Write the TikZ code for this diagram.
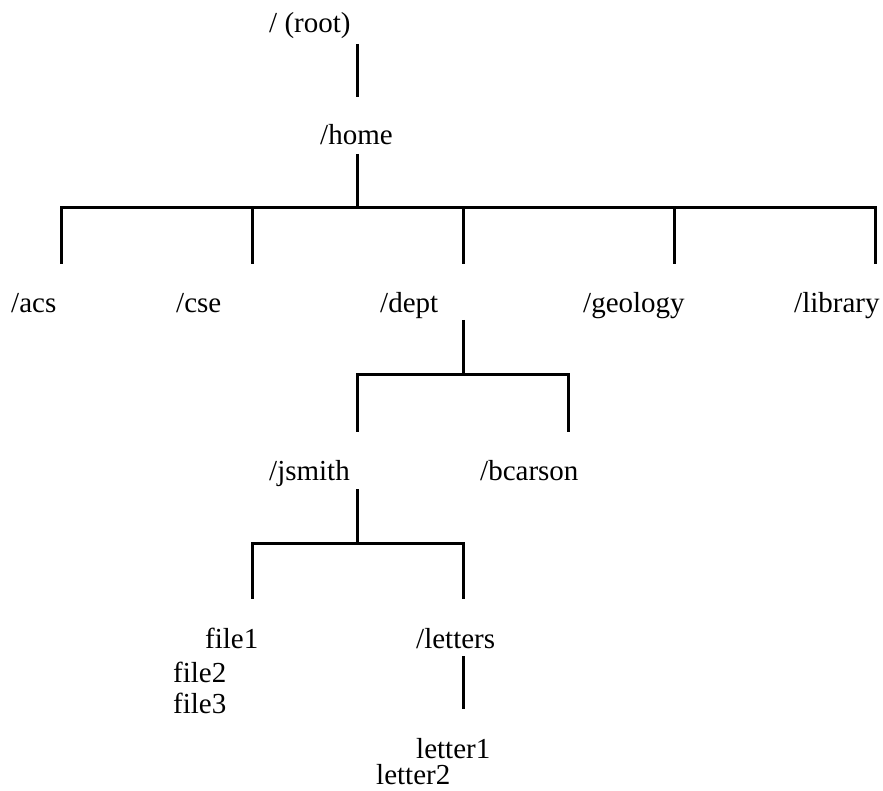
\documentclass[tikz,border=0pt]{standalone}
\usepackage{fontspec}
\setmainfont{Liberation Serif}
\begin{document}
\begin{tikzpicture}[x=1pt,y=-1pt,
  lbl/.style={anchor=base west, inner sep=0pt, font=\fontsize{29}{33}\selectfont},
  conn/.style={line width=3pt},
  bar/.style={line width=3pt, line cap=rect}]
\useasboundingbox (0,0) rectangle (883,791);
% labels
\node[lbl] (root) at (269,33) {/ (root)};
\node[lbl] (home) at (320,145) {/home};
\node[lbl] (acs) at (11,313) {/acs};
\node[lbl] (cse) at (176,313) {/cse};
\node[lbl] (dept) at (380,313) {/dept};
\node[lbl] (geology) at (583,313) {/geology};
\node[lbl] (library) at (794,313) {/library};
\node[lbl] (jsmith) at (269,480) {/jsmith};
\node[lbl] (bcarson) at (480,480) {/bcarson};
\node[lbl] (file1) at (205,648) {file1};
\node[lbl] (file2) at (173,682) {file2};
\node[lbl] (file3) at (173,713) {file3};
\node[lbl] (letters) at (416,648) {/letters};
\node[lbl] (letter1) at (416,758) {letter1};
\node[lbl] (letter2) at (376,784) {letter2};
% connector end points
\coordinate (rootS) at (357,44);
\coordinate (homeN) at (357,97);
\coordinate (homeS) at (357,154);
\coordinate (homeJ) at (357,208);
\coordinate (barL) at (61,208);
\coordinate (barR) at (875,208);
\coordinate (acsN) at (61,264);
\coordinate (cseN) at (252,264);
\coordinate (deptN) at (463,264);
\coordinate (geoN) at (674,264);
\coordinate (libN) at (875,264);
\coordinate (deptS) at (463,320);
\coordinate (deptJ) at (463,374);
\coordinate (jsmithN) at (357,432);
\coordinate (bcarsonN) at (568,432);
\coordinate (jsmithS) at (357,489);
\coordinate (jsmithJ) at (357,543);
\coordinate (filesN) at (252,599);
\coordinate (lettersN) at (463,599);
\coordinate (lettersS) at (463,656);
\coordinate (letterN) at (463,709);
% connectors
\draw[conn] (rootS) -- (homeN);
\draw[conn] (homeS) -- (homeJ);
\draw[bar] (barL) -- (barR);
\foreach \c in {acsN,cseN,deptN,geoN,libN} \draw[conn] (\c |- homeJ) -- (\c);
\draw[conn] (deptS) -- (deptJ);
\draw[bar] (jsmithN |- deptJ) -- (bcarsonN |- deptJ);
\foreach \c in {jsmithN,bcarsonN} \draw[conn] (\c |- deptJ) -- (\c);
\draw[conn] (jsmithS) -- (jsmithJ);
\draw[bar] (filesN |- jsmithJ) -- (lettersN |- jsmithJ);
\foreach \c in {filesN,lettersN} \draw[conn] (\c |- jsmithJ) -- (\c);
\draw[conn] (lettersS) -- (letterN);
\end{tikzpicture}
\end{document}
